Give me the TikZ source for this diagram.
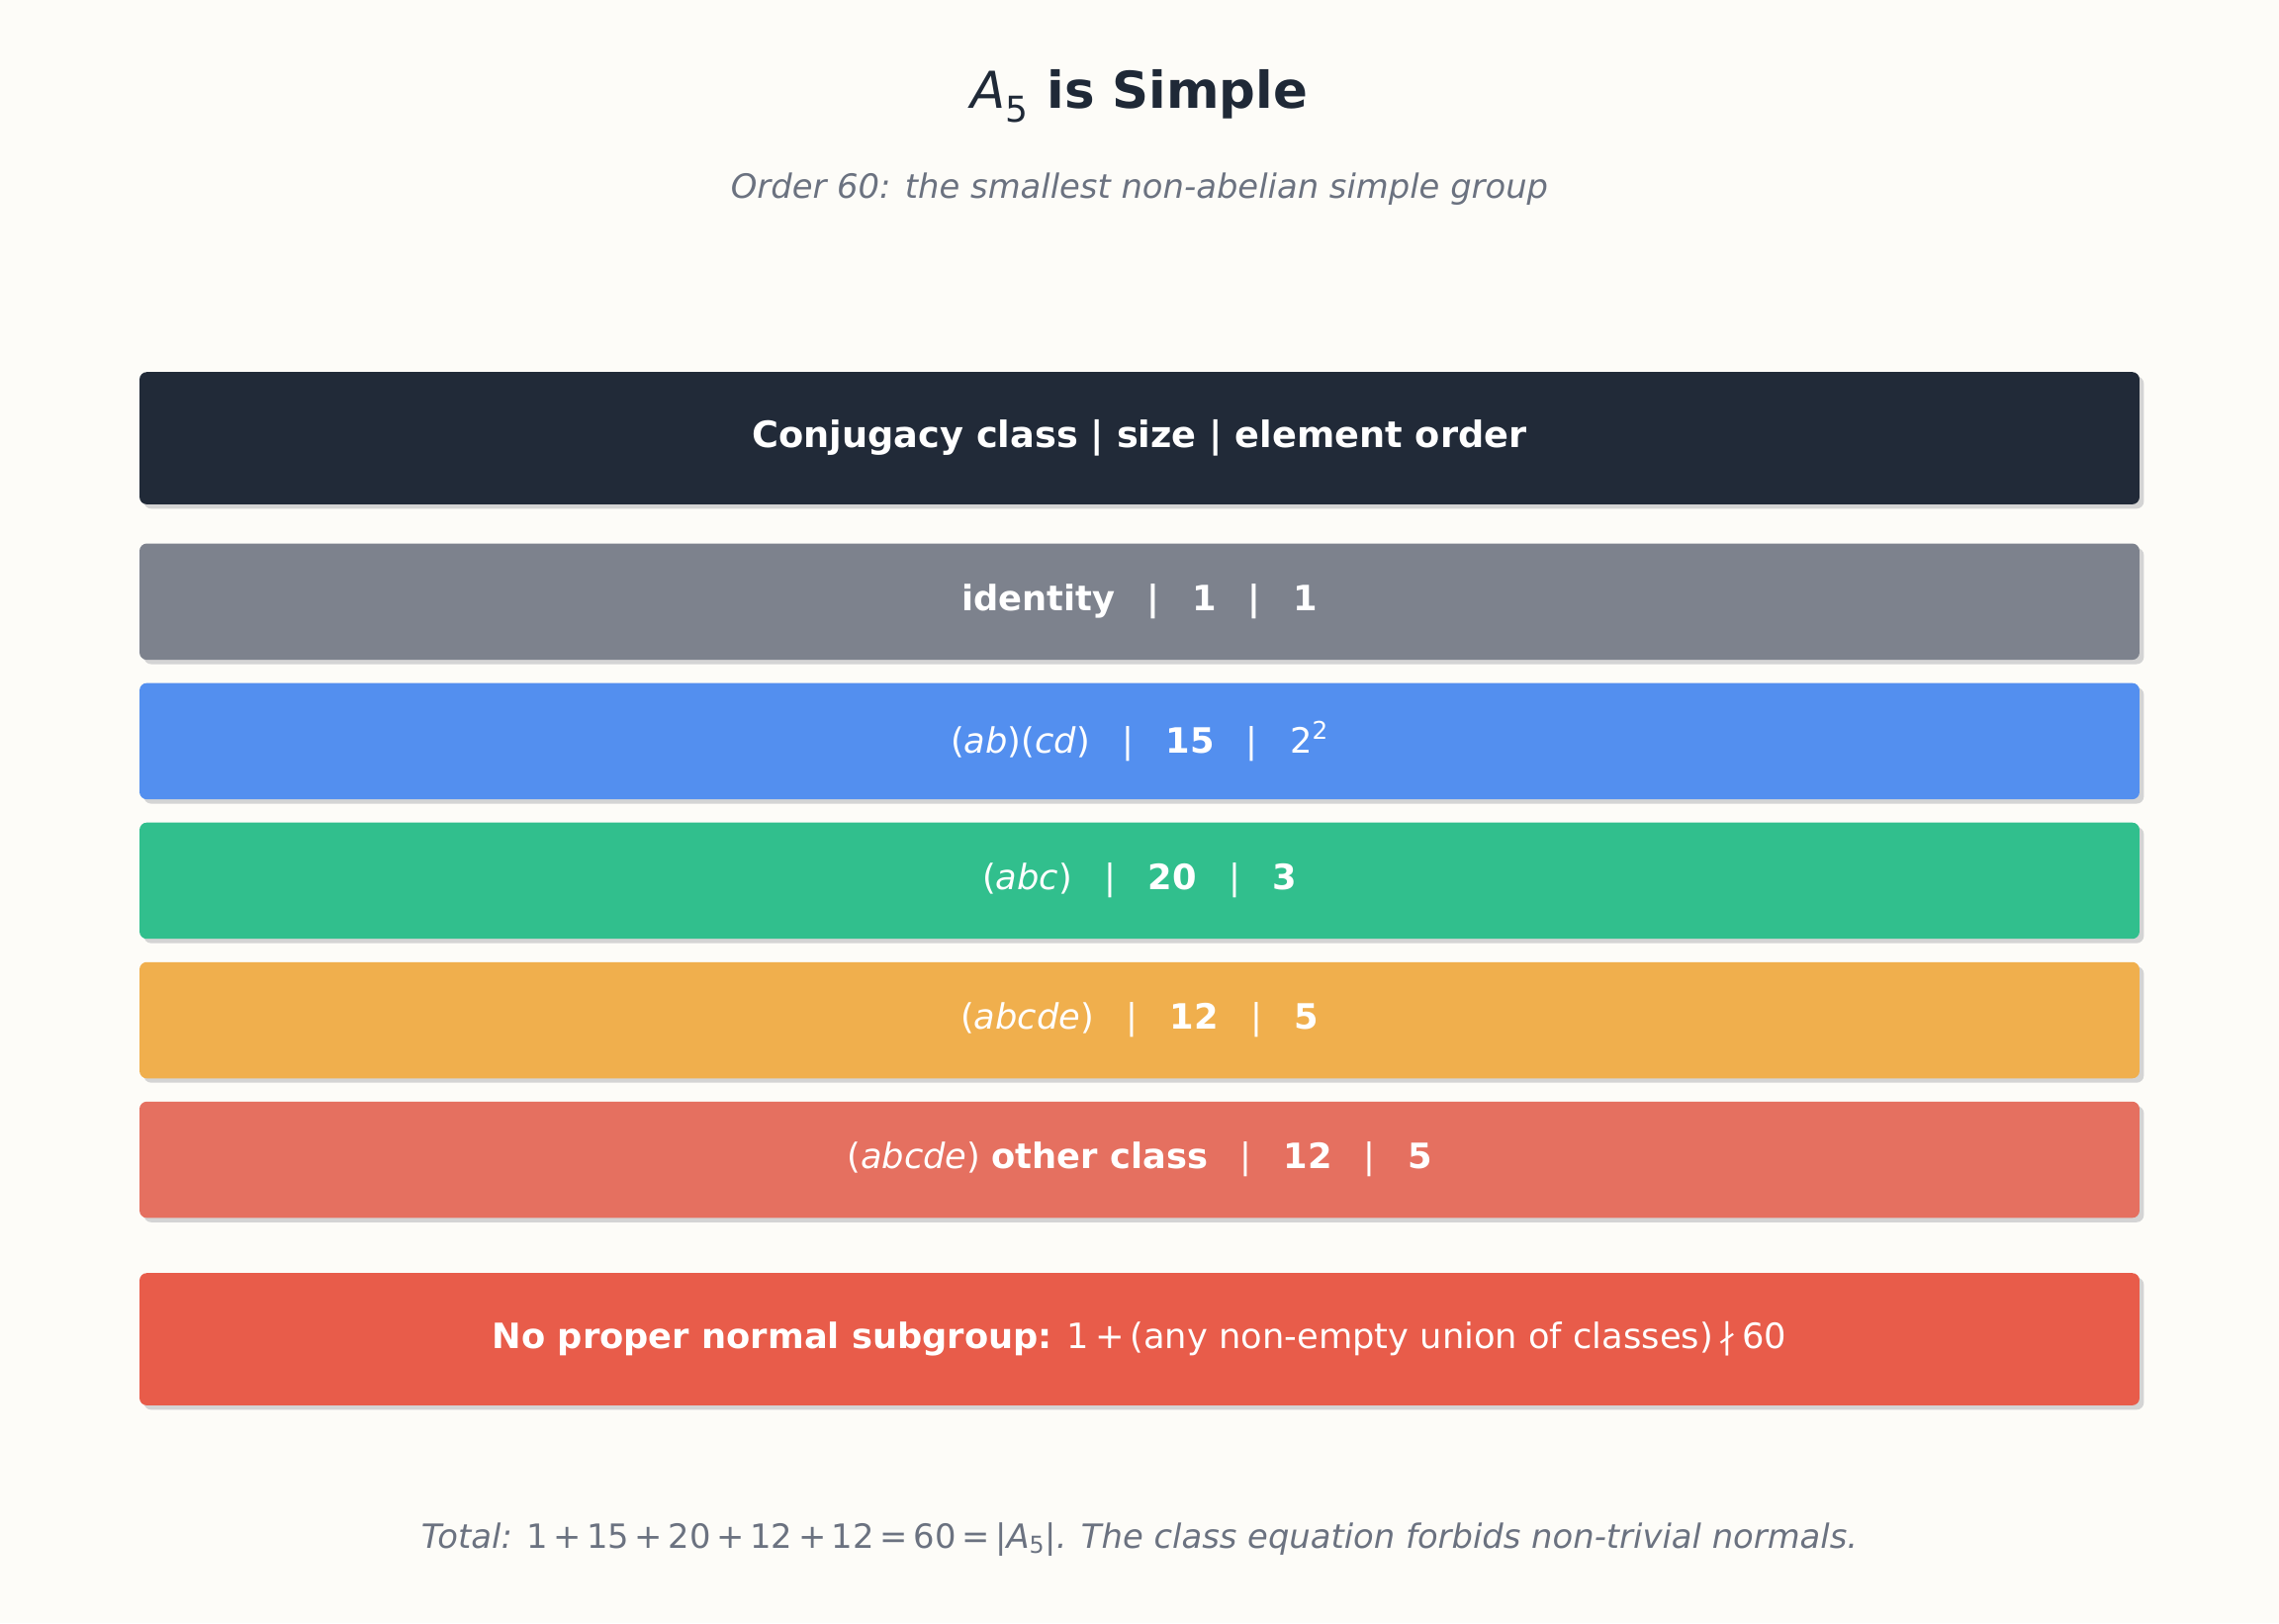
\documentclass[tikz,border=0pt]{standalone}
\usepackage{fontspec}
\setmainfont{DejaVu Sans}
\usetikzlibrary{shadows}
\definecolor{bg}{HTML}{FDFCF8}
\definecolor{ink}{HTML}{1F2937}
\definecolor{sub}{HTML}{6B7280}
\definecolor{hdr}{HTML}{212A38}
\definecolor{rgray}{HTML}{7D828D}
\definecolor{rblue}{HTML}{538FEF}
\definecolor{rgreen}{HTML}{31BF8D}
\definecolor{rorange}{HTML}{F0AF4D}
\definecolor{rsalmon}{HTML}{E57060}
\definecolor{rred}{HTML}{E85C4A}
\definecolor{shd}{HTML}{D4D4D4}
\newcommand{\sep}{\hspace{22pt}|\hspace{22pt}}
\begin{document}
\begin{tikzpicture}[x=1pt,y=1pt,
  barbox/.style={rectangle,rounded corners=5pt,minimum width=1376pt,text=white,
     font=\fontsize{24}{28}\selectfont,inner sep=0pt,
     drop shadow={shadow xshift=3pt,shadow yshift=-3pt,fill=shd,opacity=1}}]
\useasboundingbox[fill=bg] (0,0) rectangle (1568,-1117);
\node[text=ink,font=\fontsize{35}{40}\selectfont\bfseries] (title) at (784,-66) {\textit{\mdseries A}\textsubscript{\mdseries 5} is Simple};
\node[text=sub,font=\fontsize{23}{28}\selectfont\itshape] (subt) at (784,-130) {Order 60: the smallest non-abelian simple group};
\node[barbox,fill=hdr,minimum height=91pt,font=\fontsize{25}{30}\selectfont\bfseries] (h) at (784,-301.5) {Conjugacy class | size | element order};
\node[barbox,fill=rgray,minimum height=80pt,font=\fontsize{24}{28}\selectfont\bfseries] (r1) at (784,-414) {identity\sep 1\sep 1};
\node[barbox,fill=rblue,minimum height=80pt] (r2) at (784,-510) {(\textit{ab})(\textit{cd})\sep\textbf{15}\sep 2\textsuperscript{2}};
\node[barbox,fill=rgreen,minimum height=80pt] (r3) at (784,-606) {(\textit{abc})\sep\textbf{20}\sep\textbf{3}};
\node[barbox,fill=rorange,minimum height=80pt] (r4) at (784,-702) {(\textit{abcde})\sep\textbf{12}\sep\textbf{5}};
\node[barbox,fill=rsalmon,minimum height=80pt] (r5) at (784,-798) {(\textit{abcde}) \textbf{other class}\sep\textbf{12}\sep\textbf{5}};
\node[barbox,fill=rred,minimum height=91pt] (nb) at (784,-921.5) {\textbf{No proper normal subgroup:} 1\,+\,(any non-empty union of classes)\,∤\,60};
\node[text=sub,font=\fontsize{23}{28}\selectfont] (foot) at (784,-1059) {\textit{Total:} 1\,+\,15\,+\,20\,+\,12\,+\,12\,=\,60\,=\,|\textit{A}\textsubscript{5}|\textit{. The class equation forbids non-trivial normals.}};
\end{tikzpicture}
\end{document}
